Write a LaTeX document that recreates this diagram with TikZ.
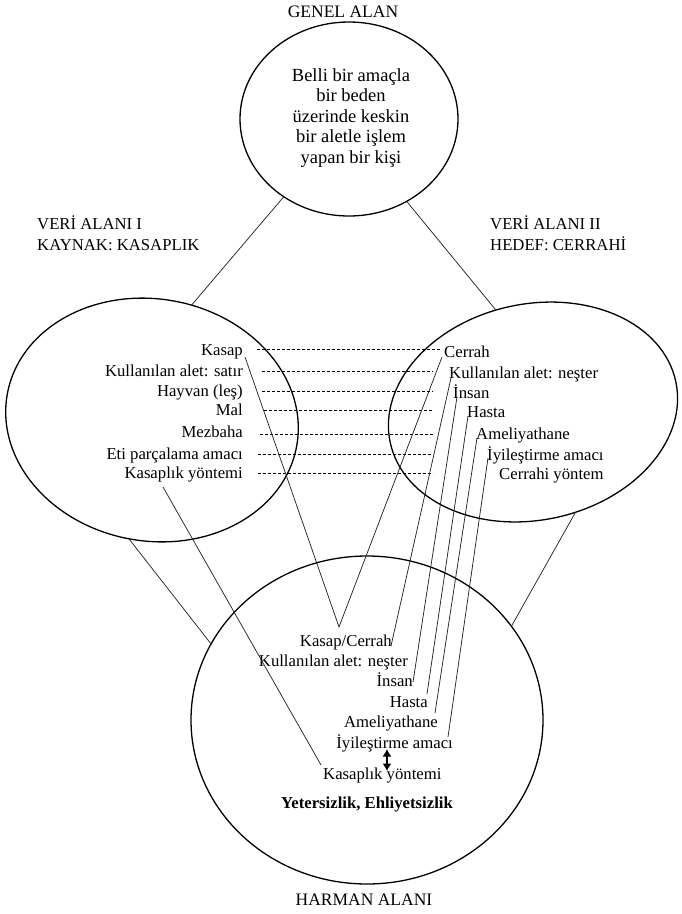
\documentclass[tikz,border=0pt]{standalone}
\usepackage{fontspec}
\setmainfont{Liberation Serif}
\usetikzlibrary{shapes.geometric,arrows.meta}
\begin{document}
\begin{tikzpicture}[x=1pt,y=-1pt,
  area/.style={draw, ellipse, line width=1.3pt, inner sep=0pt, outer sep=0pt},
  conn/.style={draw, line width=0.75pt, black!85},
  dl/.style={draw, line width=0.6pt, dash pattern=on 3pt off 2pt},
  txt/.style={inner sep=0pt, font=\fontsize{16.7}{21}\selectfont},
  lft/.style={txt, anchor=base east},
  rgt/.style={txt, anchor=base west}]
\useasboundingbox (0,0) rectangle (682,914);

% areas
\node[area, minimum width=218pt, minimum height=194pt] (G) at (349,119) {};
\node[area, minimum width=294pt, minimum height=242pt, rotate=-10] (L) at (152,420) {};
\node[area, minimum width=292pt, minimum height=216pt, rotate=12] (R) at (533,412) {};
\node[area, minimum width=352pt, minimum height=328pt] (B) at (367,720) {};

% links between areas
\draw[conn] (G.230) -- (L.81);
\draw[conn] (G.305) -- (R.98);
\draw[conn] (L.269) -- (B.154);
\draw[conn] (R.281) -- (B.33);

% titles
\node[txt, font=\fontsize{17.5}{21}\selectfont] (tG) at (343,12) {GENEL ALAN};
\node[txt, font=\fontsize{17.5}{21}\selectfont] (tB) at (364,900) {HARMAN ALANI};
\node[txt, anchor=base west, align=left] (tL) at (37,250) {VERİ ALANI I\\KAYNAK: KASAPLIK};
\node[txt, anchor=base west, align=left] (tR) at (490,250) {VERİ ALANI II\\HEDEF: CERRAHİ};

% generic space text
\node[txt, align=center, font=\fontsize{18.5}{20.5}\selectfont] (gtext) at (351,118)
  {Belli bir amaçla\\bir beden\\üzerinde keskin\\bir aletle işlem\\yapan bir kişi};

% left list
\node[lft] (l1) at (243,355) {Kasap};
\node[lft] (l2) at (243,376) {Kullanılan alet: satır};
\node[lft] (l3) at (243,396) {Hayvan (leş)};
\node[lft] (l4) at (243,415) {Mal};
\node[lft] (l5) at (243,437) {Mezbaha};
\node[lft] (l6) at (243,459) {Eti parçalama amacı};
\node[lft] (l7) at (243,478) {Kasaplık yöntemi};

% right list
\node[rgt] (r1) at (444,357) {Cerrah};
\node[rgt] (r2) at (449,378) {Kullanılan alet: neşter};
\node[rgt] (r3) at (453,398) {İnsan};
\node[rgt] (r4) at (467,417) {Hasta};
\node[rgt] (r5) at (476,439) {Ameliyathane};
\node[rgt] (r6) at (487,460) {İyileştirme amacı};
\node[rgt] (r7) at (499,479) {Cerrahi yöntem};

% blend list
\node[lft] (b1) at (392,646) {Kasap/Cerrah};
\node[lft] (b2) at (408,666) {Kullanılan alet: neşter};
\node[lft] (b3) at (413,686) {İnsan};
\node[lft] (b4) at (428,707) {Hasta};
\node[lft] (b5) at (438,727) {Ameliyathane};
\node[lft] (b6) at (453,748) {İyileştirme amacı};
\node[rgt] (b7) at (323,779) {Kasaplık yöntemi};
\node[txt, anchor=base, font=\fontsize{16.7}{21}\selectfont\bfseries] (b8) at (367,808) {Yetersizlik, Ehliyetsizlik};

% dashed correspondences
\coordinate (d1a) at (257,349); \coordinate (d1b) at (442,349);
\coordinate (d2a) at (262,371); \coordinate (d2b) at (433,371);
\coordinate (d3a) at (262,391); \coordinate (d3b) at (433,391);
\coordinate (d4a) at (264,410); \coordinate (d4b) at (433,410);
\coordinate (d5a) at (260,434); \coordinate (d5b) at (433,434);
\coordinate (d6a) at (258,454); \coordinate (d6b) at (433,454);
\coordinate (d7a) at (258,473); \coordinate (d7b) at (433,473);
\foreach \i in {1,...,7} {\draw[dl] (d\i a) -- (d\i b);}

% projection lines
\coordinate (s1) at (245,357);
\coordinate (s2) at (442,357);
\coordinate (vtip) at (339,627);
\draw[conn] (s1) -- (vtip) -- (s2);

\coordinate (s7) at (163,487);
\coordinate (e7) at (321,765);
\draw[conn] (s7) -- (e7);

\coordinate (p2) at (451,378); \coordinate (q2) at (391,646);
\coordinate (p3) at (457,397); \coordinate (q3) at (413,682);
\coordinate (p4) at (468,416); \coordinate (q4) at (427,694);
\coordinate (p5) at (477,438); \coordinate (q5) at (435,713);
\coordinate (p6) at (488,458); \coordinate (q6) at (448,737);
\foreach \i in {2,...,6} {\draw[conn] (p\i) -- (q\i);}

% double arrow
\coordinate (a1) at (387,749);
\coordinate (a2) at (387,771);
\draw[line width=1.2pt, {Latex[length=7.5pt,width=9pt]}-{Latex[length=7.5pt,width=9pt]}] (a1) -- (a2);
\end{tikzpicture}
\end{document}
